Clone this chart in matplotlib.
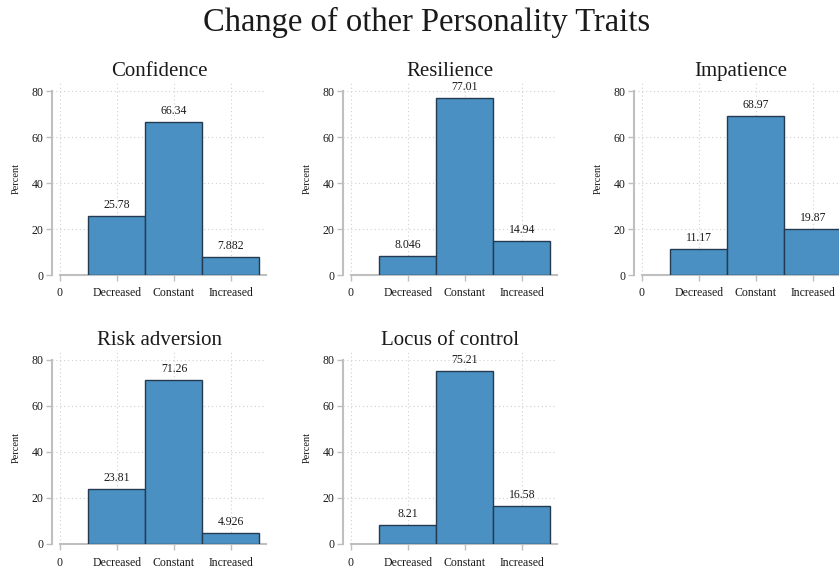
import matplotlib
matplotlib.use('Agg')
import matplotlib.pyplot as plt

# data
traits = ['Confidence', 'Resilience', 'Impatience', 'Risk adversion', 'Locus of control']
categories = ['Decreased', 'Constant', 'Increased']
positions = [1, 2, 3]
percent = {
    'Confidence': [25.78, 66.34, 7.882],
    'Resilience': [8.046, 77.01, 14.94],
    'Impatience': [11.17, 68.97, 19.87],
    'Risk adversion': [23.81, 71.26, 4.926],
    'Locus of control': [8.21, 75.21, 16.58],
}
value_labels = {
    'Confidence': ['25.78', '66.34', '7.882'],
    'Resilience': ['8.046', '77.01', '14.94'],
    'Impatience': ['11.17', '68.97', '19.87'],
    'Risk adversion': ['23.81', '71.26', '4.926'],
    'Locus of control': ['8.21', '75.21', '16.58'],
}

plt.rcParams['font.family'] = ['Liberation Serif', 'DejaVu Serif']
W, H = 839, 569
fig = plt.figure(figsize=(W/100, H/100), dpi=100)

barcol = '#4a90c2'
edgecol = '#243a50'
axcol = '#bfbfbf'
txtcol = '#1a1a1a'

# pixel positions of each panel (left edge, y-pixel of zero line)
xpx = {0: 52, 1: 343, 2: 634}
ypx = {0: 275, 1: 544}
pxunit_x = 57.0
pxunit_y = 2.3
xmin, xmax = -0.14, 3.62
ymax = 84

for i, trait in enumerate(traits):
    row, col = divmod(i, 3)
    left = xpx[col]
    zero = ypx[row]
    w = (xmax - xmin) * pxunit_x
    h = ymax * pxunit_y
    ax = fig.add_axes([left / W, (H - zero) / H, w / W, h / H])
    ax.set_xlim(xmin, xmax)
    ax.set_ylim(0, ymax)

    ax.bar(positions, percent[trait], width=1.0, color=barcol,
           edgecolor=edgecol, linewidth=1.0, zorder=3)
    for p, v, lab in zip(positions, percent[trait], value_labels[trait]):
        ax.text(p, v + 2.2, lab, ha='center', va='bottom', fontsize=8.5,
                color=txtcol, zorder=4)

    # grid
    for g in [20, 40, 60, 80]:
        ax.axhline(g, color='#d0d0d0', linestyle=(0, (1, 2.5)), linewidth=0.8, zorder=1)
    for g in [0, 1, 2, 3]:
        ax.axvline(g, color='#d0d0d0', linestyle=(0, (1, 2.5)), linewidth=0.8, zorder=1)

    for s in ['top', 'right']:
        ax.spines[s].set_visible(False)
    ax.spines['left'].set_bounds(0, 80)
    ax.spines['left'].set_color(axcol)
    ax.spines['left'].set_linewidth(1.5)
    ax.spines['bottom'].set_bounds(0, xmax)
    ax.spines['bottom'].set_color(axcol)
    ax.spines['bottom'].set_linewidth(1.5)
    ax.spines['bottom'].set_zorder(2)

    ax.set_yticks([0, 20, 40, 60, 80])
    ax.set_xticks([0] + positions)
    ax.set_xticklabels(['0'] + categories)
    ax.tick_params(axis='both', colors=axcol, labelcolor=txtcol, labelsize=8.5,
                   length=4, width=1, pad=2)
    ax.tick_params(axis='x', pad=5)
    ax.set_ylabel('Percent', fontsize=7.5, color=txtcol, labelpad=8)
    ax.set_title(trait, fontsize=15, color=txtcol, pad=4)
    ax.patch.set_alpha(0)

fig.text(427 / W, 1 - 22 / H, 'Change of other Personality Traits', ha='center',
         va='center', fontsize=23.5, color=txtcol)

fig.savefig('out.png', dpi=100, facecolor='white')
